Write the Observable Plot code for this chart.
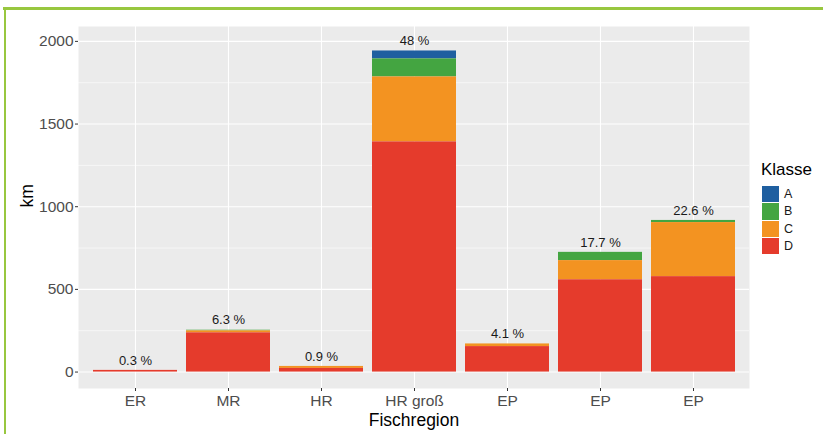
<!DOCTYPE html>
<html><head><meta charset="utf-8">
<script src="https://cdn.jsdelivr.net/npm/d3@7"></script>
<script src="https://cdn.jsdelivr.net/npm/@observablehq/plot@0.6"></script>
<style>
body{margin:0;background:#fff;}
#wrap{position:relative;width:823px;height:434px;overflow:hidden;font-family:"Liberation Sans",Arial,sans-serif;}
#chart{position:absolute;left:0;top:0;}
.border{position:absolute;background:#98c73f;}
#legend{position:absolute;left:0;top:0;}
.lg-title{position:absolute;left:761px;top:160px;font-size:17px;line-height:20px;color:#000;}
.lg-key{position:absolute;left:762px;width:17px;height:16.3px;}
.lg-lab{position:absolute;left:784px;font-size:12.5px;line-height:17px;color:#1a1a1a;}
</style></head><body>
<div id="wrap">
  <div id="chart"></div>
  <div id="legend"></div>
  <div class="border" style="left:3px;top:7px;width:820px;height:2.5px"></div>
  <div class="border" style="left:3.5px;top:7px;width:2.5px;height:427px"></div>
</div>
<script>
const regions = ["ER", "MR", "HR", "HR groß", "EP", "EP", "EP"];
const classes = ["A", "B", "C", "D"];
const classColors = ["#1f5fa0", "#44a541", "#f39321", "#e53b2c"];
const classA = [0, 0, 0, 48, 0, 0, 0];
const classB = [0, 4, 0, 109, 0, 50, 13];
const classC = [0, 12, 12, 393, 16, 116, 327];
const classD = [10, 237, 22, 1392, 154, 558, 577];
const percentLabels = ["0.3 %", "6.3 %", "0.9 %", "48 %", "4.1 %", "17.7 %", "22.6 %"];
const majorTicks = [0, 500, 1000, 1500, 2000];
const minorTicks = [250, 750, 1250, 1750];

const series = {A: classA, B: classB, C: classC, D: classD};
const rows = [];
regions.forEach((r, i) => classes.forEach(k => rows.push({idx: i, klasse: k, km: series[k][i]})));
const totals = regions.map((r, i) => ({idx: i, total: classes.reduce((s, k) => s + series[k][i], 0), label: percentLabels[i]}));

const chart = Plot.plot({
  width: 823, height: 434,
  marginLeft: 78, marginRight: 74, marginTop: 26, marginBottom: 46,
  style: {fontFamily: '"Liberation Sans", Arial, sans-serif', background: "transparent", overflow: "visible"},
  x: {domain: d3.range(regions.length), paddingInner: 0.1, paddingOuter: 0.15, align: 0.5},
  y: {domain: [-99.5, 2090]},
  color: {domain: classes, range: classColors},
  marks: [
    Plot.frame({fill: "#ebebeb", stroke: null}),
    Plot.ruleY(minorTicks, {stroke: "white", strokeWidth: 0.55}),
    Plot.ruleY(majorTicks, {stroke: "white", strokeWidth: 1.1}),
    Plot.gridX({stroke: "white", strokeOpacity: 1, strokeWidth: 1.1}),
    Plot.barY(rows, Plot.stackY({order: ["D", "C", "B", "A"]}, {x: "idx", y: "km", fill: "klasse"})),
    Plot.text(totals, {x: "idx", y: d => d.total + 60, text: "label", fontSize: 13, fill: "#1a1a1a"}),
    Plot.axisY({ticks: majorTicks, tickFormat: d => String(d), tickSize: 3, tickPadding: 2, fontSize: 15.5, fill: "#4d4d4d", stroke: "#333", label: null}),
    Plot.axisX({tickSize: 3, tickPadding: 3, fontSize: 15.5, fill: "#4d4d4d", stroke: "#333", label: null, tickFormat: i => regions[i]}),
    Plot.text(["Fischregion"], {frameAnchor: "bottom", dy: 37, fontSize: 17.5, fill: "#000"}),
    Plot.text(["km"], {frameAnchor: "left", dx: -51, rotate: -90, fontSize: 17.5, fill: "#000"})
  ]
});
document.getElementById("chart").appendChild(chart);

const legend = d3.select("#legend");
legend.append("div").attr("class", "lg-title").text("Klasse");
classes.forEach((k, j) => {
  legend.append("div").attr("class", "lg-key")
    .style("top", (186 + j * 17.3) + "px").style("background", classColors[j]);
  legend.append("div").attr("class", "lg-lab")
    .style("top", (186 + j * 17.3) + "px").text(k);
});
</script>
</body></html>
